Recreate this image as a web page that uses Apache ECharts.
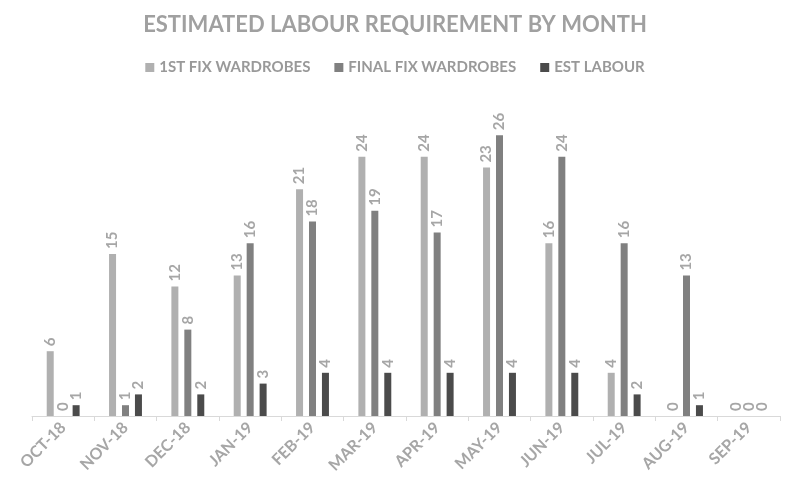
<!DOCTYPE html>
<html>
<head>
<meta charset="utf-8">
<script src="https://cdn.jsdelivr.net/npm/echarts@6/dist/echarts.min.js"></script>
<style>
  html, body { margin: 0; padding: 0; background: #fff; }
  #chart { width: 790px; height: 491px; }
</style>
</head>
<body>
<div id="chart"></div>
<script>
// data
var months = ['OCT-18', 'NOV-18', 'DEC-18', 'JAN-19', 'FEB-19', 'MAR-19', 'APR-19', 'MAY-19', 'JUN-19', 'JUL-19', 'AUG-19', 'SEP-19'];
var firstFix = [6, 15, 12, 13, 21, 24, 24, 23, 16, 4, 0, 0];
var finalFix = [0, 1, 8, 16, 18, 19, 17, 26, 24, 16, 13, 0];
var estLabour = [1, 2, 2, 3, 4, 4, 4, 4, 4, 2, 1, 0];

var textGrey = '#a6a6a6';
var fontFam = 'Lato, "Open Sans", sans-serif';

function barSeries(name, data, color) {
  return {
    name: name,
    type: 'bar',
    data: data,
    barWidth: 7,
    barGap: '85%',
    itemStyle: { color: color },
    label: {
      show: true,
      position: 'top',
      rotate: 90,
      align: 'left',
      verticalAlign: 'middle',
      distance: 5,
      color: textGrey,
      fontSize: 15,
      fontWeight: 'bold',
      fontFamily: fontFam
    }
  };
}

var chart = echarts.init(document.getElementById('chart'));
chart.setOption({
  animation: false,
  title: {
    text: 'ESTIMATED LABOUR REQUIREMENT BY MONTH',
    left: 'center',
    top: 9,
    textStyle: { color: '#a0a0a0', fontSize: 22, fontWeight: 'bold', fontFamily: fontFam }
  },
  legend: {
    top: 55,
    left: 'center',
    itemWidth: 9,
    itemHeight: 9,
    itemGap: 24,
    icon: 'rect',
    textStyle: { color: '#999', fontSize: 15, fontWeight: 'bold', fontFamily: fontFam }
  },
  grid: { left: 32, right: 10, top: 92, bottom: 75 },
  xAxis: {
    type: 'category',
    data: months,
    axisLine: { lineStyle: { color: '#d9d9d9', width: 1 } },
    axisTick: { show: true, length: 5, lineStyle: { color: '#d9d9d9' } },
    axisLabel: {
      rotate: 45,
      interval: 0,
      margin: 9,
      color: textGrey,
      fontSize: 16,
      fontWeight: 'bold',
      fontFamily: fontFam
    }
  },
  yAxis: {
    type: 'value',
    min: 0,
    max: 30,
    show: false,
    splitLine: { show: false }
  },
  series: [
    barSeries('1ST FIX WARDROBES', firstFix, '#b0b0b0'),
    barSeries('FINAL FIX WARDROBES', finalFix, '#808080'),
    barSeries('EST LABOUR', estLabour, '#4b4b4b')
  ]
});
</script>
</body>
</html>
